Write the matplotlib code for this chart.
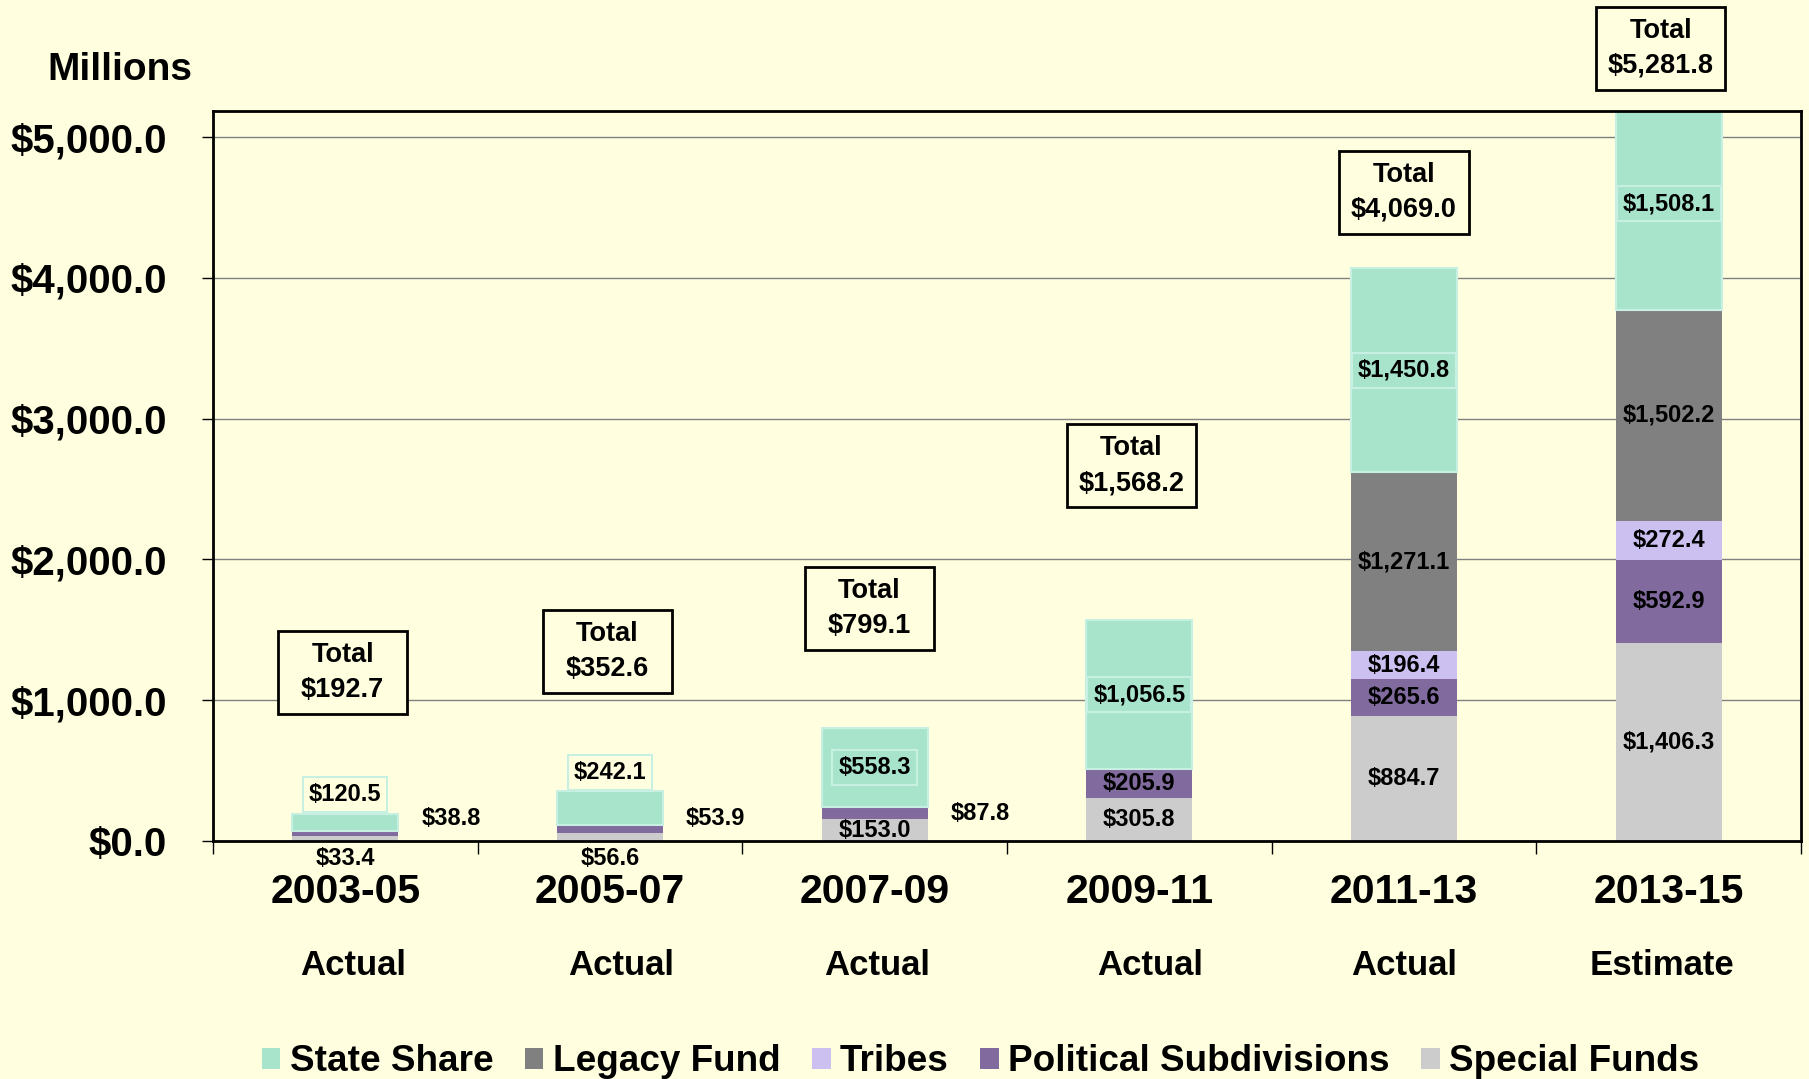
import matplotlib
matplotlib.use("Agg")
import matplotlib.pyplot as plt
from matplotlib.patches import Rectangle
from matplotlib.transforms import blended_transform_factory
import numpy as np

plt.rcParams['font.family'] = ['Liberation Sans', 'DejaVu Sans']
plt.rcParams['font.weight'] = 'bold'

# data ($ millions)
periods = ["2003-05", "2005-07", "2007-09", "2009-11", "2011-13", "2013-15"]
status = ["Actual", "Actual", "Actual", "Actual", "Actual", "Estimate"]
special_funds = [33.4, 56.6, 153.0, 305.8, 884.7, 1406.3]
political_subdivisions = [38.8, 53.9, 87.8, 205.9, 265.6, 592.9]
tribes = [0.0, 0.0, 0.0, 0.0, 196.4, 272.4]
legacy_fund = [0.0, 0.0, 0.0, 0.0, 1271.1, 1502.2]
state_share = [120.5, 242.1, 558.3, 1056.5, 1450.8, 1508.1]
totals = [192.7, 352.6, 799.1, 1568.2, 4069.0, 5281.8]

# where the "Total" boxes sit (data units)
total_box_y = [1197, 1344, 1648, 2664, 4607, 5631]
total_box_dx = [-0.01, -0.01, -0.02, -0.03, 0.0, -0.03]
box_w, box_h = 0.488, 590
status_dx = [0.03, 0.044, 0.009, 0.039, 0.0, -0.026]

bg = '#FFFFE0'
colors = {
    'Special Funds': '#CCCCCC',
    'Political Subdivisions': '#806A9E',
    'Tribes': '#CBC0F0',
    'Legacy Fund': '#808080',
    'State Share': '#A8E4CC',
}

fig = plt.figure(figsize=(18.09, 10.79), dpi=100, facecolor=bg)
ax = fig.add_axes([0.1177, 0.2206, 0.9956 - 0.1177, 0.8971 - 0.2206])
ax.set_facecolor(bg)

x = np.arange(len(periods))
w = 0.4
bottom = np.zeros(len(periods))
series = [('Special Funds', special_funds),
          ('Political Subdivisions', political_subdivisions),
          ('Tribes', tribes),
          ('Legacy Fund', legacy_fund),
          ('State Share', state_share)]
bars = {}
for name, vals in series:
    vals = np.array(vals)
    ec = '#C8F0E2' if name == 'State Share' else 'none'
    bars[name] = ax.bar(x, vals, w, bottom=bottom, color=colors[name],
                        edgecolor=ec, linewidth=1.5, label=name, zorder=3)
    bars[name + '_bottom'] = bottom.copy()
    bottom = bottom + vals

ax.set_xlim(-0.5, 5.5)
ax.set_ylim(0, 5185)

ax.set_yticks(np.arange(0, 5001, 1000))
ax.set_yticklabels(["${:,.1f}".format(v) for v in np.arange(0, 5001, 1000)],
                   fontsize=29, fontweight='bold')
ax.tick_params(axis='y', direction='out', length=8, width=1, pad=25)
ax.set_xticks(x)
ax.set_xticklabels([])
ax.set_xticks(np.arange(-0.5, 5.6, 1), minor=True)
ax.tick_params(axis='x', which='major', length=0)
ax.tick_params(axis='x', which='minor', direction='out', length=9, width=1)
ax.grid(axis='y', color='#808080', linewidth=1, zorder=1)
for s in ax.spines.values():
    s.set_linewidth(2)
    s.set_zorder(4)

tr = blended_transform_factory(ax.transData, ax.transAxes)
for i in range(len(periods)):
    ax.text(x[i], -0.07, periods[i], transform=tr, ha='center', va='center',
            fontsize=29.5, fontweight='bold')
    ax.text(x[i] + status_dx[i], -0.17, status[i], transform=tr, ha='center',
            va='center', fontsize=25, fontweight='bold')

fig.text(0.066, 0.935, "Millions", ha='center', va='center', fontsize=28,
         fontweight='bold')

lbl = dict(ha='center', va='center', fontsize=17, fontweight='bold', zorder=5,
           clip_on=False)
ss_bottom = bars['State Share_bottom']
sf = np.array(special_funds)
ps_bottom = bars['Political Subdivisions_bottom']
for i in range(len(periods)):
    # state share
    top = ss_bottom[i] + state_share[i]
    box = dict(boxstyle='square,pad=0.25', facecolor='none', edgecolor='#C8F0E2',
               linewidth=1.5)
    if state_share[i] < 400:
        ax.text(x[i], top + 135, "${:,.1f}".format(state_share[i]), bbox=box, **lbl)
    else:
        ax.text(x[i], ss_bottom[i] + state_share[i] / 2,
                "${:,.1f}".format(state_share[i]), bbox=box, **lbl)
    # political subdivisions
    if political_subdivisions[i] < 150:
        ax.text(x[i] + 0.4, max(ps_bottom[i] + political_subdivisions[i] / 2, 160),
                "${:,.1f}".format(political_subdivisions[i]), **lbl)
    else:
        ax.text(x[i], ps_bottom[i] + political_subdivisions[i] / 2,
                "${:,.1f}".format(political_subdivisions[i]), **lbl)
    # special funds
    if sf[i] < 100:
        ax.text(x[i], -125, "${:,.1f}".format(sf[i]), **lbl)
    else:
        ax.text(x[i], sf[i] / 2, "${:,.1f}".format(sf[i]), **lbl)
    # tribes / legacy
    if tribes[i] > 0:
        b = bars['Tribes_bottom'][i]
        ax.text(x[i], b + tribes[i] / 2, "${:,.1f}".format(tribes[i]), **lbl)
    if legacy_fund[i] > 0:
        b = bars['Legacy Fund_bottom'][i]
        ax.text(x[i], b + legacy_fund[i] / 2, "${:,.1f}".format(legacy_fund[i]), **lbl)
    # total box
    cx = x[i] + total_box_dx[i]
    cy = total_box_y[i]
    ax.add_patch(Rectangle((cx - box_w / 2, cy - box_h / 2), box_w, box_h,
                           facecolor=bg, edgecolor='black', linewidth=2,
                           zorder=6, clip_on=False))
    ax.text(cx, cy, "Total\n${:,.1f}".format(totals[i]), ha='center', va='center',
            fontsize=19.5, fontweight='bold', linespacing=1.45, zorder=7,
            clip_on=False)

names = ['State Share', 'Legacy Fund', 'Tribes', 'Political Subdivisions',
         'Special Funds']
leg = fig.legend([bars[n] for n in names], names,
                 loc='center', bbox_to_anchor=(0.542, 0.016), ncol=5, frameon=False,
                 prop={'size': 26.6, 'weight': 'bold'}, handlelength=0.5,
                 handleheight=0.5, handletextpad=0.25, columnspacing=0.86)
for h in leg.legend_handles:
    h.set_edgecolor('none')

fig.savefig('out.png', dpi=100, facecolor=bg)
